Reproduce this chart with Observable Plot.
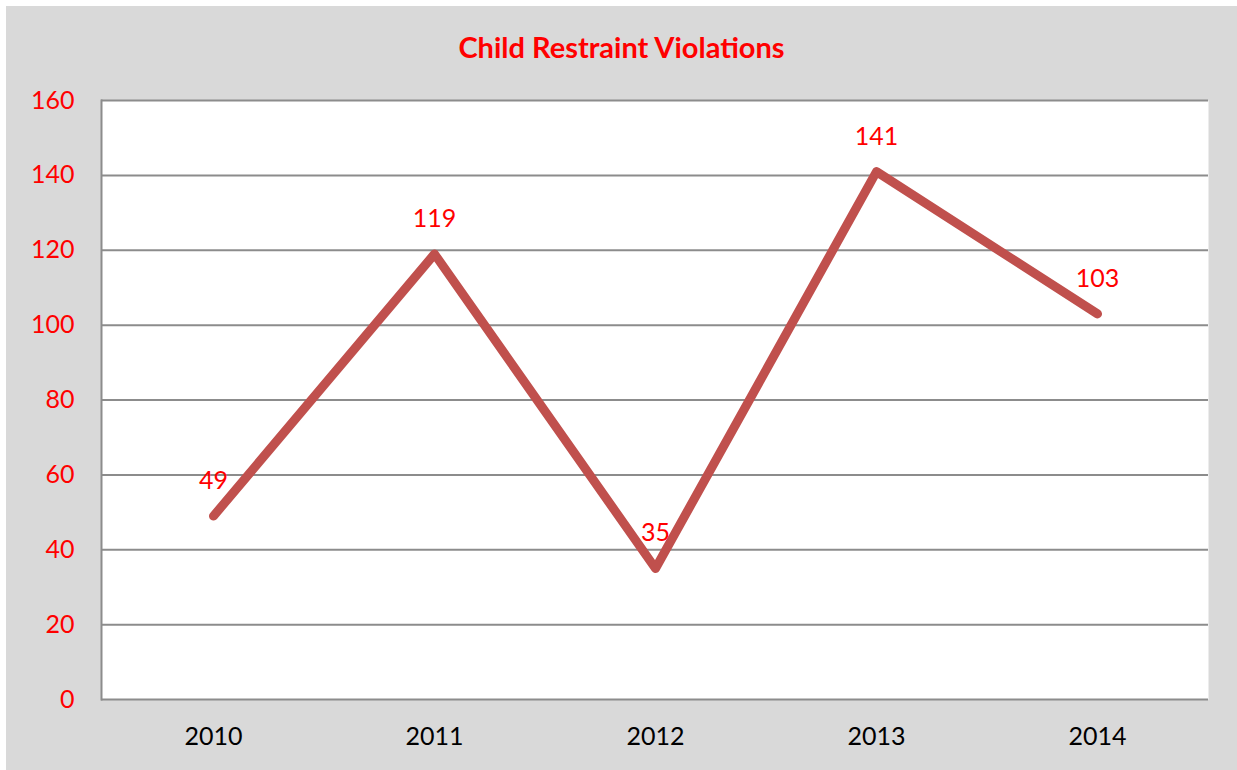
<!DOCTYPE html>
<html>
<head>
<meta charset="utf-8">
<script src="https://cdn.jsdelivr.net/npm/d3@7"></script>
<script src="https://cdn.jsdelivr.net/npm/@observablehq/plot@0.6"></script>
<style>
  html, body { margin: 0; padding: 0; background: #ffffff; }
  #chart { position: absolute; left: 6px; top: 6px; width: 1231px; height: 764px; background: #d9d9d9; overflow: hidden; }
  #title { height: 88px; line-height: 82px; text-align: center; font-family: Lato, sans-serif; font-weight: bold; font-size: 29px; color: #ff0000; }
  svg { display: block; }
</style>
</head>
<body>
<div id="chart"><div id="title">Child Restraint Violations</div></div>
<script>
const years = ["2010", "2011", "2012", "2013", "2014"];
const violations = [49, 119, 35, 141, 103];
const yTicks = [0, 20, 40, 60, 80, 100, 120, 140, 160];

const data = years.map((y, i) => ({year: y, value: violations[i]}));

const plot = Plot.plot({
  width: 1231,
  height: 676,
  marginLeft: 95,
  marginRight: 29,
  marginTop: 6,
  marginBottom: 71,
  style: {background: "#d9d9d9", fontFamily: "Lato, sans-serif", fontSize: "24px", overflow: "visible"},
  x: {type: "point", domain: years, padding: 0.5, label: null},
  y: {domain: [0, 160], ticks: yTicks, label: null},
  marks: [
    Plot.frame({fill: "#ffffff", stroke: null}),
    Plot.gridY(yTicks, {stroke: "#8c8c8c", strokeOpacity: 1, strokeWidth: 2}),
    Plot.frame({anchor: "left", stroke: "#8c8c8c", strokeWidth: 2}),
    Plot.axisY(yTicks, {tickSize: 0, tickPadding: 27, fill: "#ff0000", fontSize: 25}),
    Plot.axisX({tickSize: 0, tickPadding: 28, fill: "#000000", fontSize: 25}),
    Plot.line(data, {x: "year", y: "value", stroke: "#c0504d", strokeWidth: 9, strokeLinecap: "round", strokeLinejoin: "round"}),
    Plot.text(data, {x: "year", y: "value", text: d => String(d.value), dy: -35, fill: "#ff0000", fontSize: 25})
  ]
});
document.getElementById("chart").appendChild(plot);
</script>
</body>
</html>
